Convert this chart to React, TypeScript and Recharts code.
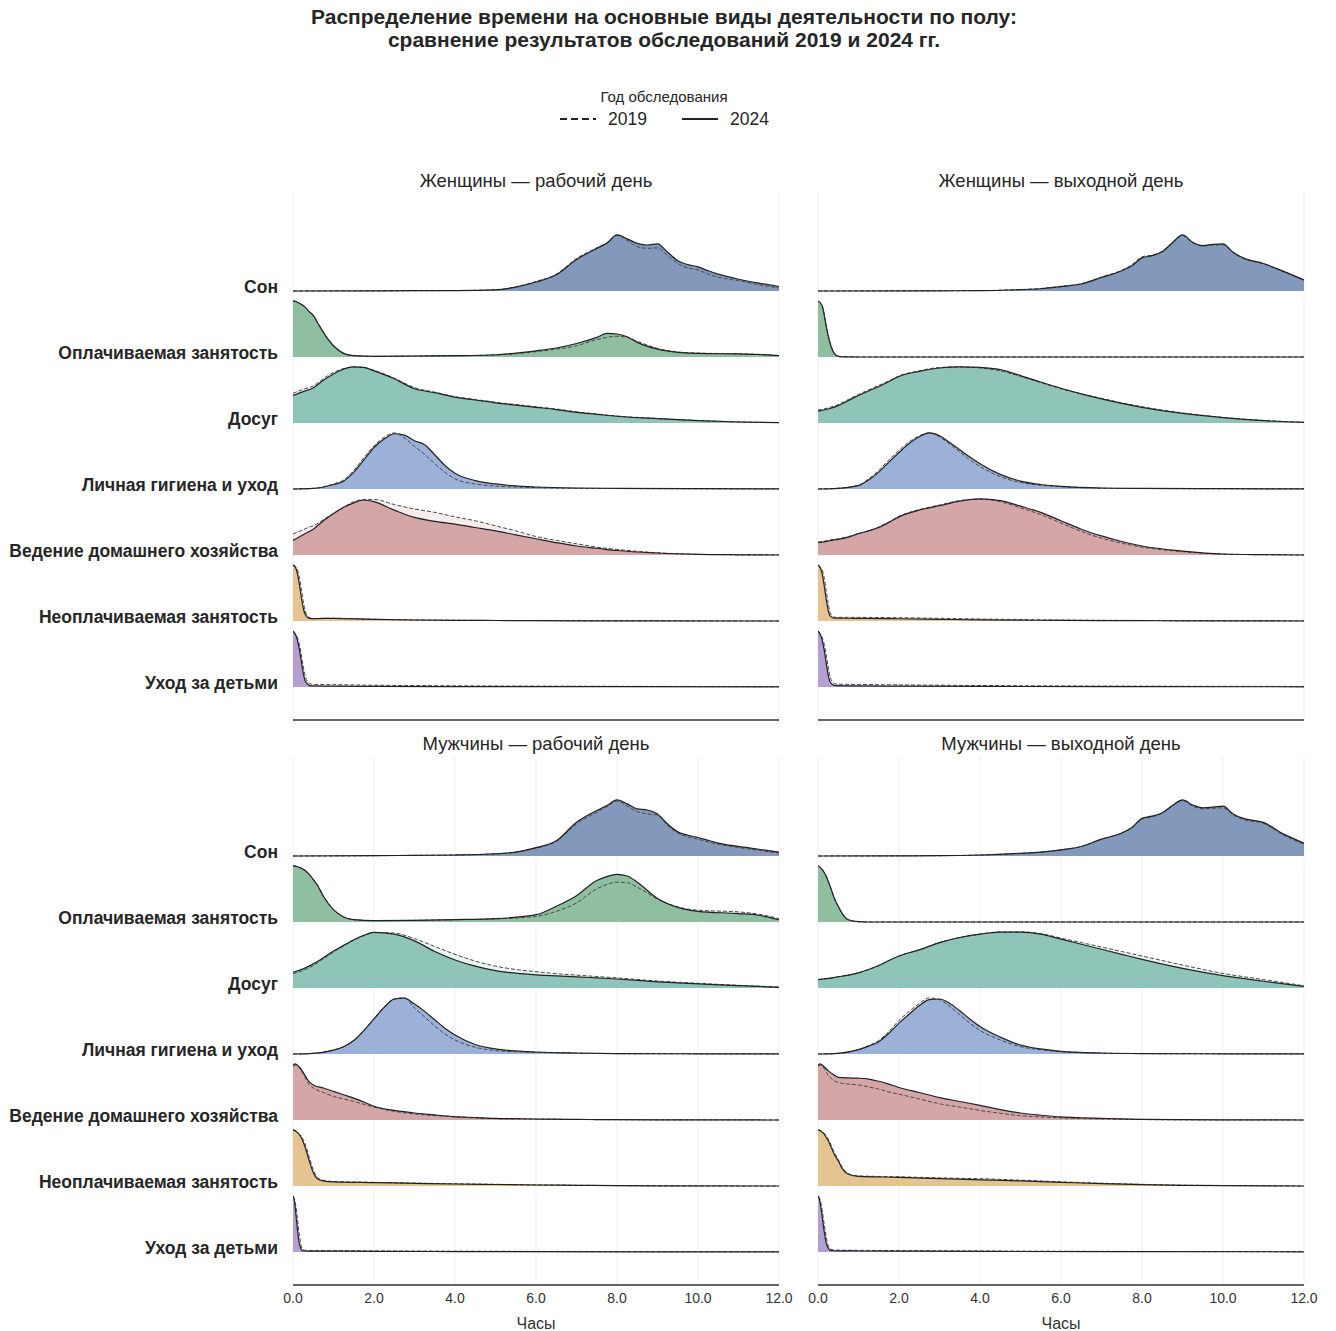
import React from 'react'
import { ComposedChart, Area, Line, XAxis, YAxis, CartesianGrid } from 'recharts'

// ridge order, top to bottom
const CATEGORIES = [
  'Сон',
  'Оплачиваемая занятость',
  'Досуг',
  'Личная гигиена и уход',
  'Ведение домашнего хозяйства',
  'Неоплачиваемая занятость',
  'Уход за детьми',
]

const COLORS = ['#8399bb', '#8fbfa0', '#8fc5b8', '#9bb1d8', '#d5a6a7', '#e6c492', '#b39fd2']

const PANELS = [
  { key: 'fWork', title: 'Женщины — рабочий день' },
  { key: 'fRest', title: 'Женщины — выходной день' },
  { key: 'mWork', title: 'Мужчины — рабочий день' },
  { key: 'mRest', title: 'Мужчины — выходной день' },
]

const YEARS = ['2019', '2024']
const X_TICKS = [0, 2, 4, 6, 8, 10, 12]

// hours grid + relative density (peak of ridge = 1) per panel / year
const H_SLEEP = [0, 2, 3, 4, 5, 5.5, 6, 6.5, 7, 7.5, 7.75, 8, 8.25, 8.5, 8.75, 9, 9.25, 9.5, 9.75, 10, 10.25, 10.5, 11, 11.5, 12]
const SLEEP = {
  fWork2024: [0, 0.003, 0.005, 0.008, 0.02, 0.07, 0.16, 0.29, 0.56, 0.76, 0.85, 1.0, 0.93, 0.85, 0.82, 0.84, 0.69, 0.54, 0.47, 0.43, 0.36, 0.30, 0.21, 0.14, 0.08],
  fWork2019: [0, 0.003, 0.005, 0.008, 0.022, 0.075, 0.17, 0.30, 0.58, 0.77, 0.86, 0.99, 0.90, 0.79, 0.76, 0.77, 0.63, 0.49, 0.41, 0.375, 0.30, 0.245, 0.185, 0.11, 0.055],
  fRest2024: [0, 0.002, 0.004, 0.006, 0.024, 0.04, 0.077, 0.125, 0.24, 0.36, 0.45, 0.59, 0.63, 0.70, 0.86, 1.0, 0.87, 0.81, 0.83, 0.84, 0.69, 0.59, 0.49, 0.35, 0.196],
  fRest2019: [0, 0.002, 0.004, 0.007, 0.026, 0.045, 0.085, 0.13, 0.25, 0.37, 0.47, 0.61, 0.64, 0.71, 0.86, 0.99, 0.86, 0.80, 0.82, 0.82, 0.68, 0.58, 0.48, 0.34, 0.19],
  mWork2024: [0, 0.005, 0.012, 0.018, 0.04, 0.07, 0.15, 0.27, 0.6, 0.81, 0.9, 1.0, 0.93, 0.84, 0.82, 0.75, 0.57, 0.43, 0.37, 0.33, 0.28, 0.23, 0.17, 0.12, 0.07],
  mWork2019: [0, 0.005, 0.012, 0.018, 0.04, 0.07, 0.14, 0.26, 0.57, 0.78, 0.88, 0.98, 0.89, 0.79, 0.75, 0.73, 0.54, 0.41, 0.34, 0.30, 0.25, 0.21, 0.15, 0.10, 0.05],
  mRest2024: [0, 0.003, 0.006, 0.018, 0.048, 0.07, 0.11, 0.17, 0.3, 0.41, 0.51, 0.67, 0.71, 0.77, 0.90, 1.0, 0.91, 0.86, 0.87, 0.89, 0.75, 0.67, 0.60, 0.39, 0.23],
  mRest2019: [0, 0.003, 0.006, 0.018, 0.048, 0.07, 0.11, 0.17, 0.3, 0.41, 0.5, 0.66, 0.70, 0.76, 0.89, 0.99, 0.89, 0.84, 0.85, 0.86, 0.73, 0.65, 0.58, 0.37, 0.21],
}

const H_PAID = [0, 0.1, 0.2, 0.25, 0.3, 0.4, 0.5, 0.6, 0.75, 1, 1.25, 1.5, 2, 3, 4, 5, 6, 6.5, 7, 7.5, 7.75, 8, 8.25, 8.5, 9, 9.5, 10, 11, 11.5, 12]
const PAID = {
  fWork2024: [1.0, 0.98, 0.94, 0.92, 0.89, 0.81, 0.74, 0.62, 0.44, 0.2, 0.065, 0.024, 0.012, 0.018, 0.024, 0.04, 0.11, 0.16, 0.24, 0.35, 0.42, 0.41, 0.36, 0.26, 0.14, 0.083, 0.065, 0.054, 0.045, 0.024],
  fWork2019: [1.0, 0.98, 0.94, 0.92, 0.89, 0.81, 0.74, 0.62, 0.44, 0.2, 0.065, 0.024, 0.012, 0.016, 0.022, 0.036, 0.095, 0.14, 0.2, 0.31, 0.35, 0.37, 0.35, 0.28, 0.155, 0.09, 0.07, 0.058, 0.048, 0.026],
  fRest2024: [1.0, 0.92, 0.56, 0.38, 0.24, 0.065, 0.012, 0.004, 0.002, 0, 0, 0, 0, 0, 0, 0, 0, 0, 0, 0, 0, 0, 0, 0, 0, 0, 0, 0, 0, 0],
  fRest2019: [0.99, 0.92, 0.58, 0.40, 0.25, 0.07, 0.014, 0.004, 0.002, 0, 0, 0, 0, 0, 0, 0, 0, 0, 0, 0, 0, 0, 0, 0, 0, 0, 0, 0, 0, 0],
  mWork2024: [1.0, 0.99, 0.96, 0.94, 0.92, 0.85, 0.76, 0.66, 0.46, 0.22, 0.09, 0.042, 0.024, 0.03, 0.042, 0.06, 0.13, 0.28, 0.47, 0.74, 0.81, 0.85, 0.82, 0.71, 0.42, 0.26, 0.19, 0.15, 0.12, 0.04],
  mWork2019: [1.0, 0.99, 0.96, 0.94, 0.92, 0.85, 0.76, 0.66, 0.46, 0.22, 0.09, 0.042, 0.024, 0.03, 0.04, 0.055, 0.1, 0.19, 0.34, 0.59, 0.67, 0.71, 0.70, 0.62, 0.41, 0.27, 0.21, 0.18, 0.14, 0.06],
  mRest2024: [1.0, 0.94, 0.82, 0.73, 0.64, 0.43, 0.28, 0.15, 0.04, 0.005, 0, 0, 0, 0, 0, 0, 0, 0, 0, 0, 0, 0, 0, 0, 0, 0, 0, 0, 0, 0],
  mRest2019: [1.0, 0.94, 0.82, 0.73, 0.63, 0.42, 0.27, 0.14, 0.035, 0.004, 0, 0, 0, 0, 0, 0, 0, 0, 0, 0, 0, 0, 0, 0, 0, 0, 0, 0, 0, 0],
}

const H_LEISURE = [0, 0.25, 0.5, 0.75, 1, 1.25, 1.5, 1.75, 2, 2.5, 3, 3.5, 4, 4.5, 5, 5.5, 6, 6.5, 7, 7.5, 8, 9, 10, 11, 12]
const LEISURE = {
  fWork2024: [0.49, 0.56, 0.625, 0.76, 0.875, 0.96, 1.0, 0.99, 0.93, 0.79, 0.61, 0.54, 0.46, 0.41, 0.36, 0.32, 0.28, 0.24, 0.19, 0.155, 0.12, 0.077, 0.042, 0.018, 0.006],
  fWork2019: [0.53, 0.6, 0.66, 0.79, 0.9, 0.97, 1.0, 0.99, 0.94, 0.8, 0.63, 0.55, 0.47, 0.42, 0.37, 0.33, 0.29, 0.25, 0.2, 0.16, 0.125, 0.08, 0.045, 0.02, 0.007],
  fRest2024: [0.21, 0.25, 0.31, 0.40, 0.49, 0.57, 0.65, 0.74, 0.83, 0.92, 0.98, 1.0, 0.99, 0.95, 0.845, 0.73, 0.62, 0.52, 0.43, 0.35, 0.28, 0.17, 0.095, 0.042, 0.012],
  fRest2019: [0.23, 0.27, 0.33, 0.42, 0.51, 0.59, 0.67, 0.75, 0.84, 0.93, 0.99, 1.0, 0.98, 0.93, 0.83, 0.72, 0.61, 0.52, 0.44, 0.36, 0.29, 0.18, 0.1, 0.046, 0.014],
  mWork2024: [0.28, 0.34, 0.43, 0.54, 0.66, 0.76, 0.86, 0.94, 0.99, 0.96, 0.84, 0.65, 0.5, 0.39, 0.31, 0.265, 0.235, 0.215, 0.2, 0.18, 0.16, 0.11, 0.072, 0.042, 0.012],
  mWork2019: [0.26, 0.31, 0.40, 0.52, 0.64, 0.75, 0.85, 0.93, 0.99, 0.98, 0.88, 0.74, 0.6, 0.48, 0.39, 0.33, 0.29, 0.255, 0.23, 0.205, 0.18, 0.125, 0.084, 0.048, 0.018],
  mRest2024: [0.15, 0.17, 0.2, 0.23, 0.27, 0.33, 0.40, 0.49, 0.57, 0.68, 0.81, 0.90, 0.96, 0.995, 0.995, 0.96, 0.87, 0.78, 0.69, 0.60, 0.51, 0.35, 0.22, 0.12, 0.03],
  mRest2019: [0.15, 0.17, 0.2, 0.23, 0.27, 0.33, 0.40, 0.49, 0.57, 0.68, 0.81, 0.90, 0.96, 1.0, 1.0, 0.97, 0.89, 0.81, 0.73, 0.65, 0.57, 0.41, 0.26, 0.15, 0.04],
}

const H_PERSONAL = [0, 0.5, 1, 1.25, 1.5, 1.75, 2, 2.25, 2.5, 2.75, 3, 3.25, 3.5, 3.75, 4, 4.5, 5, 5.5, 6, 7, 8, 10, 12]
const PERSONAL = {
  fWork2024: [0, 0.01, 0.08, 0.14, 0.30, 0.52, 0.74, 0.89, 0.985, 0.96, 0.86, 0.79, 0.61, 0.42, 0.28, 0.15, 0.09, 0.054, 0.036, 0.018, 0.012, 0.006, 0.003],
  fWork2019: [0, 0.01, 0.09, 0.16, 0.33, 0.56, 0.77, 0.92, 1.0, 0.91, 0.76, 0.62, 0.45, 0.30, 0.18, 0.09, 0.05, 0.035, 0.024, 0.012, 0.008, 0.004, 0.002],
  fRest2024: [0, 0.012, 0.06, 0.16, 0.3, 0.48, 0.65, 0.81, 0.93, 1.0, 0.95, 0.83, 0.70, 0.57, 0.45, 0.26, 0.14, 0.08, 0.048, 0.018, 0.01, 0.005, 0.002],
  fRest2019: [0, 0.014, 0.07, 0.18, 0.33, 0.52, 0.69, 0.84, 0.95, 1.0, 0.93, 0.80, 0.66, 0.52, 0.40, 0.22, 0.115, 0.065, 0.04, 0.015, 0.008, 0.004, 0.002],
  mWork2024: [0, 0.012, 0.07, 0.13, 0.24, 0.42, 0.625, 0.83, 0.98, 0.995, 0.89, 0.76, 0.61, 0.46, 0.34, 0.17, 0.09, 0.054, 0.036, 0.018, 0.008, 0.004, 0.002],
  mWork2019: [0, 0.012, 0.07, 0.13, 0.24, 0.42, 0.63, 0.84, 0.98, 1.0, 0.82, 0.66, 0.5, 0.36, 0.25, 0.12, 0.06, 0.04, 0.028, 0.014, 0.006, 0.003, 0.002],
  mRest2024: [0, 0.012, 0.077, 0.14, 0.22, 0.37, 0.55, 0.71, 0.86, 0.97, 0.98, 0.905, 0.77, 0.625, 0.49, 0.30, 0.16, 0.09, 0.048, 0.018, 0.008, 0.004, 0.002],
  mRest2019: [0, 0.012, 0.08, 0.15, 0.24, 0.40, 0.60, 0.76, 0.90, 1.0, 0.97, 0.85, 0.70, 0.55, 0.42, 0.25, 0.13, 0.075, 0.04, 0.015, 0.007, 0.003, 0.002],
}

const H_HOUSE = [0, 0.05, 0.15, 0.25, 0.4, 0.5, 0.75, 1, 1.25, 1.5, 1.75, 2, 2.5, 3, 3.5, 4, 4.5, 5, 5.5, 6, 6.5, 7, 7.5, 8, 9, 10, 11, 12]
const HOUSE = {
  fWork2024: [0.26, 0.28, 0.32, 0.36, 0.42, 0.46, 0.61, 0.74, 0.85, 0.93, 0.98, 0.95, 0.80, 0.67, 0.60, 0.55, 0.49, 0.43, 0.36, 0.29, 0.22, 0.16, 0.12, 0.08, 0.036, 0.012, 0.004, 0],
  fWork2019: [0.37, 0.39, 0.42, 0.45, 0.5, 0.52, 0.63, 0.74, 0.85, 0.95, 0.99, 0.99, 0.90, 0.82, 0.76, 0.68, 0.61, 0.52, 0.43, 0.33, 0.26, 0.20, 0.14, 0.10, 0.04, 0.012, 0.004, 0],
  fRest2024: [0.22, 0.225, 0.235, 0.25, 0.27, 0.28, 0.32, 0.38, 0.43, 0.49, 0.58, 0.68, 0.80, 0.88, 0.96, 1.0, 0.97, 0.87, 0.76, 0.61, 0.46, 0.34, 0.24, 0.16, 0.07, 0.018, 0.006, 0],
  fRest2019: [0.23, 0.235, 0.245, 0.26, 0.28, 0.29, 0.33, 0.38, 0.43, 0.50, 0.59, 0.69, 0.81, 0.89, 0.97, 0.995, 0.95, 0.84, 0.72, 0.57, 0.42, 0.30, 0.21, 0.14, 0.06, 0.016, 0.005, 0],
  mWork2024: [0.97, 1.0, 0.95, 0.85, 0.68, 0.625, 0.57, 0.51, 0.45, 0.39, 0.32, 0.245, 0.17, 0.125, 0.09, 0.06, 0.045, 0.03, 0.024, 0.018, 0.014, 0.01, 0.008, 0.006, 0.003, 0.002, 0.001, 0],
  mWork2019: [0.95, 0.98, 0.94, 0.82, 0.63, 0.57, 0.49, 0.42, 0.375, 0.33, 0.28, 0.23, 0.155, 0.107, 0.078, 0.054, 0.036, 0.024, 0.019, 0.015, 0.012, 0.009, 0.007, 0.005, 0.003, 0.002, 0.001, 0],
  mRest2024: [0.97, 1.0, 0.95, 0.88, 0.80, 0.76, 0.75, 0.745, 0.73, 0.69, 0.64, 0.58, 0.49, 0.40, 0.33, 0.26, 0.185, 0.125, 0.085, 0.054, 0.04, 0.03, 0.02, 0.012, 0.005, 0.002, 0.001, 0],
  mRest2019: [0.96, 0.98, 0.92, 0.80, 0.70, 0.67, 0.64, 0.625, 0.59, 0.55, 0.50, 0.46, 0.375, 0.29, 0.23, 0.17, 0.12, 0.077, 0.055, 0.036, 0.026, 0.018, 0.012, 0.008, 0.003, 0.001, 0.001, 0],
}

const H_UNPAID = [0, 0.05, 0.1, 0.15, 0.2, 0.25, 0.3, 0.4, 0.5, 0.6, 0.75, 1, 2, 3, 4, 5, 6, 7, 8, 9, 12]
const UNPAID = {
  fWork2024: [1.0, 0.97, 0.87, 0.69, 0.45, 0.24, 0.12, 0.048, 0.042, 0.044, 0.046, 0.048, 0.03, 0.018, 0.012, 0.009, 0.006, 0.004, 0.003, 0.002, 0],
  fWork2019: [0.98, 0.97, 0.93, 0.8, 0.6, 0.37, 0.18, 0.065, 0.045, 0.046, 0.047, 0.048, 0.032, 0.02, 0.014, 0.01, 0.007, 0.005, 0.003, 0.002, 0],
  fRest2024: [1.0, 0.96, 0.85, 0.65, 0.4, 0.2, 0.09, 0.05, 0.05, 0.05, 0.049, 0.048, 0.04, 0.03, 0.02, 0.015, 0.01, 0.007, 0.005, 0.003, 0],
  fRest2019: [0.98, 0.96, 0.92, 0.78, 0.56, 0.33, 0.15, 0.07, 0.065, 0.065, 0.065, 0.065, 0.058, 0.048, 0.035, 0.026, 0.018, 0.013, 0.01, 0.006, 0.002],
  mWork2024: [1.0, 0.99, 0.96, 0.92, 0.87, 0.79, 0.69, 0.45, 0.24, 0.13, 0.09, 0.072, 0.06, 0.048, 0.036, 0.027, 0.018, 0.012, 0.006, 0.003, 0],
  mWork2019: [0.99, 0.98, 0.96, 0.93, 0.89, 0.83, 0.75, 0.52, 0.29, 0.16, 0.1, 0.08, 0.065, 0.052, 0.04, 0.03, 0.02, 0.013, 0.007, 0.003, 0],
  mRest2024: [1.0, 0.99, 0.96, 0.93, 0.87, 0.81, 0.73, 0.57, 0.45, 0.31, 0.21, 0.17, 0.155, 0.13, 0.11, 0.09, 0.066, 0.042, 0.024, 0.012, 0],
  mRest2019: [0.99, 0.99, 0.97, 0.94, 0.9, 0.84, 0.77, 0.6, 0.47, 0.33, 0.22, 0.18, 0.165, 0.145, 0.13, 0.105, 0.075, 0.05, 0.03, 0.015, 0.001],
}

const H_CHILD = [0, 0.025, 0.05, 0.075, 0.1, 0.15, 0.2, 0.25, 0.3, 0.4, 0.5, 1, 2, 4, 8, 12]
const CHILD = {
  fWork2024: [1.0, 0.98, 0.95, 0.91, 0.86, 0.7, 0.48, 0.26, 0.11, 0.03, 0.02, 0.016, 0.012, 0.008, 0.005, 0.003],
  fWork2019: [0.98, 0.97, 0.95, 0.93, 0.9, 0.78, 0.6, 0.38, 0.2, 0.07, 0.048, 0.042, 0.032, 0.022, 0.012, 0.008],
  fRest2024: [1.0, 0.98, 0.94, 0.9, 0.84, 0.67, 0.44, 0.22, 0.09, 0.03, 0.025, 0.02, 0.016, 0.01, 0.006, 0.004],
  fRest2019: [0.98, 0.97, 0.95, 0.93, 0.89, 0.77, 0.58, 0.36, 0.18, 0.065, 0.05, 0.045, 0.038, 0.027, 0.015, 0.01],
  mWork2024: [1.0, 0.95, 0.83, 0.65, 0.47, 0.17, 0.05, 0.02, 0.018, 0.017, 0.016, 0.014, 0.011, 0.008, 0.004, 0.002],
  mWork2019: [0.98, 0.96, 0.9, 0.8, 0.66, 0.35, 0.12, 0.045, 0.03, 0.028, 0.027, 0.025, 0.02, 0.015, 0.008, 0.005],
  mRest2024: [1.0, 0.97, 0.89, 0.78, 0.65, 0.38, 0.17, 0.07, 0.03, 0.022, 0.02, 0.018, 0.015, 0.01, 0.006, 0.004],
  mRest2019: [0.98, 0.97, 0.93, 0.86, 0.76, 0.52, 0.28, 0.12, 0.055, 0.035, 0.033, 0.03, 0.025, 0.018, 0.01, 0.006],
}

const RIDGES = [
  { hours: H_SLEEP, values: SLEEP },
  { hours: H_PAID, values: PAID },
  { hours: H_LEISURE, values: LEISURE },
  { hours: H_PERSONAL, values: PERSONAL },
  { hours: H_HOUSE, values: HOUSE },
  { hours: H_UNPAID, values: UNPAID },
  { hours: H_CHILD, values: CHILD },
]

const SCALE = 0.85 // ridge peak height, in ridge spacings
const BASES = CATEGORIES.map((_, i) => CATEGORIES.length - 0.5 - i)

const FONT = '"Liberation Sans", Arial, Helvetica, sans-serif'
const PLOT_W = 486
const PLOT_H = 528

function buildRows(panelKey: string) {
  const xs = Array.from(new Set(RIDGES.flatMap((r) => r.hours))).sort((a, b) => a - b)
  return xs.map((x) => {
    const row: Record<string, number | null> = { x }
    RIDGES.forEach((r, i) => {
      const k = r.hours.indexOf(x)
      YEARS.forEach((y) => {
        const arr = (r.values as any)[panelKey + y] as number[]
        row[`r${i}_${y}`] = k >= 0 ? BASES[i] + arr[k] * SCALE : null
      })
    })
    return row
  })
}

const RidgeLabel = ({ y, payload }: any) => {
  const idx = Math.round(CATEGORIES.length - 0.5 - payload.value)
  return (
    <text x={278} y={y - 4} textAnchor="end" dominantBaseline="central" fontSize={17.5} fontWeight="bold" fill="#262626" fontFamily={FONT}>
      {CATEGORIES[idx]}
    </text>
  )
}

function Panel({ panelKey, left, top, showLabels, showX }: { panelKey: string; left: number; top: number; showLabels: boolean; showX: boolean }) {
  const rows = buildRows(panelKey)
  const width = showLabels ? 293 + PLOT_W + 20 : 20 + PLOT_W + 20
  const xHeight = showX ? 46 : 2
  const height = 10 + PLOT_H + xHeight
  return (
    <div style={{ position: 'absolute', left, top }}>
      <ComposedChart
        width={width}
        height={height}
        data={rows}
        margin={{ top: 10, right: 20, bottom: 0, left: showLabels ? 0 : 20 }}
      >
        <CartesianGrid vertical horizontal={false} stroke="#efefef" strokeWidth={1} />
        <XAxis
          dataKey="x"
          type="number"
          domain={[0, 12]}
          ticks={X_TICKS}
          allowDataOverflow
          height={xHeight}
          tickLine={false}
          axisLine={{ stroke: '#333', strokeWidth: 1.3 }}
          tick={showX ? { fontSize: 14, fill: '#333', fontFamily: FONT } : false}
          tickFormatter={(v: number) => v.toFixed(1)}
          label={showX ? { value: 'Часы', position: 'insideBottom', offset: 2, fontSize: 16, fill: '#333', fontFamily: FONT } : undefined}
        />
        <YAxis
          type="number"
          domain={[0, 8]}
          allowDataOverflow
          hide={!showLabels}
          width={293}
          ticks={BASES}
          axisLine={false}
          tickLine={false}
          tick={<RidgeLabel />}
        />
        {RIDGES.map((_, i) => (
          <Area
            key={`f19-${i}`}
            dataKey={`r${i}_2019`}
            type="monotone"
            baseValue={BASES[i]}
            connectNulls
            fill={COLORS[i]}
            fillOpacity={0.2}
            stroke="none"
            isAnimationActive={false}
            dot={false}
            activeDot={false}
          />
        ))}
        {RIDGES.map((_, i) => (
          <Area
            key={`f24-${i}`}
            dataKey={`r${i}_2024`}
            type="monotone"
            baseValue={BASES[i]}
            connectNulls
            fill={COLORS[i]}
            fillOpacity={1}
            stroke="none"
            isAnimationActive={false}
            dot={false}
            activeDot={false}
          />
        ))}
        {RIDGES.map((_, i) => (
          <Line
            key={`l19-${i}`}
            dataKey={`r${i}_2019`}
            type="monotone"
            connectNulls
            stroke="#4a4a4a"
            strokeWidth={1}
            strokeDasharray="4 2"
            dot={false}
            activeDot={false}
            isAnimationActive={false}
          />
        ))}
        {RIDGES.map((_, i) => (
          <Line
            key={`l24-${i}`}
            dataKey={`r${i}_2024`}
            type="monotone"
            connectNulls
            stroke="#222"
            strokeWidth={1.2}
            dot={false}
            activeDot={false}
            isAnimationActive={false}
          />
        ))}
      </ComposedChart>
    </div>
  )
}

const titleStyle: React.CSSProperties = {
  position: 'absolute',
  width: PLOT_W,
  textAlign: 'center',
  fontSize: 18.5,
  lineHeight: '22px',
  color: '#262626',
  fontFamily: FONT,
}

export default function App() {
  return (
    <div style={{ position: 'absolute', left: 0, top: 0, width: 1336, height: 1331, background: '#fff', fontFamily: FONT }}>
      <div style={{ position: 'absolute', left: 0, top: 5, width: 1328, textAlign: 'center', fontSize: 21, fontWeight: 'bold', lineHeight: '23px', color: '#262626' }}>
        Распределение времени на основные виды деятельности по полу:
        <br />
        сравнение результатов обследований 2019 и 2024 гг.
      </div>

      <svg style={{ position: 'absolute', left: 540, top: 80 }} width={250} height={50}>
        <text x={124} y={16} textAnchor="middle" dominantBaseline="central" fontSize={15} fill="#262626" fontFamily={FONT}>
          Год обследования
        </text>
        <line x1={20} x2={56} y1={39} y2={39} stroke="#222" strokeWidth={2.2} strokeDasharray="7 4" />
        <text x={68} y={39} dominantBaseline="central" fontSize={17.5} fill="#262626" fontFamily={FONT}>2019</text>
        <line x1={142} x2={178} y1={39} y2={39} stroke="#222" strokeWidth={2.2} />
        <text x={190} y={39} dominantBaseline="central" fontSize={17.5} fill="#262626" fontFamily={FONT}>2024</text>
      </svg>

      <div style={{ ...titleStyle, left: 293, top: 170 }}>{PANELS[0].title}</div>
      <div style={{ ...titleStyle, left: 818, top: 170 }}>{PANELS[1].title}</div>
      <div style={{ ...titleStyle, left: 293, top: 733 }}>{PANELS[2].title}</div>
      <div style={{ ...titleStyle, left: 818, top: 733 }}>{PANELS[3].title}</div>

      <Panel panelKey={PANELS[0].key} left={0} top={182} showLabels showX={false} />
      <Panel panelKey={PANELS[1].key} left={798} top={182} showLabels={false} showX={false} />
      <Panel panelKey={PANELS[2].key} left={0} top={747} showLabels showX />
      <Panel panelKey={PANELS[3].key} left={798} top={747} showLabels={false} showX />
    </div>
  )
}
